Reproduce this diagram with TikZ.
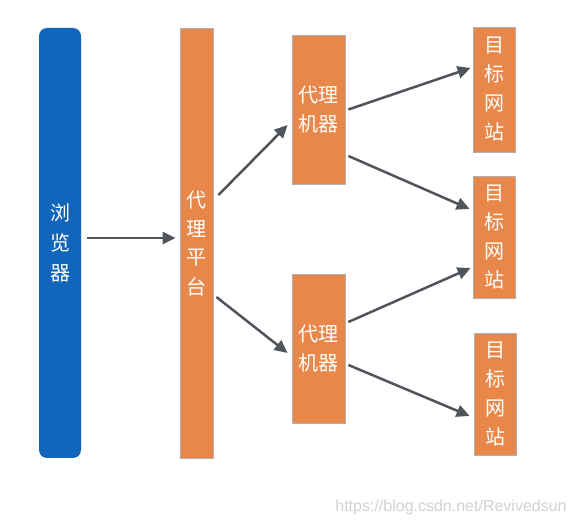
\documentclass[tikz,border=0pt]{standalone}
\usepackage{fontspec}
\newfontfamily\cjk{Noto Sans CJK SC}
\newfontfamily\wmfont{Liberation Sans}
\usetikzlibrary{arrows.meta}
\definecolor{boxorange}{HTML}{E8874A}
\definecolor{boxblue}{HTML}{1166BB}
\definecolor{arrowgray}{HTML}{50555B}
\definecolor{edgegray}{HTML}{B0B0B0}
\tikzset{
  obox/.style={rectangle, fill=boxorange, draw=edgegray, line width=0.8pt, inner sep=0pt,
    text=white, align=center, font=\cjk\fontsize{20}{29}\selectfont},
  bbox/.style={rectangle, rounded corners=8pt, fill=boxblue, draw=none, inner sep=0pt,
    text=white, align=center, font=\cjk\fontsize{20}{30}\selectfont},
  conn/.style={draw=arrowgray, line width=2.5pt, -{Triangle[length=13pt,width=12pt]}}
}
\begin{document}
\begin{tikzpicture}[x=1pt,y=1pt]
\useasboundingbox (0,0) rectangle (574,526);
\fill[white] (0,0) rectangle (574,526);
\node[bbox, minimum width=42pt, minimum height=430pt] (br) at (60,283) {浏\\览\\器};
\node[obox, minimum width=33pt, minimum height=430pt] (plat) at (196.5,283) {代\\理\\平\\台};
\node[obox, minimum width=53pt, minimum height=149pt] (pm1) at (318.5,416.5) {代理\\机器};
\node[obox, minimum width=53pt, minimum height=149pt] (pm2) at (318.5,177.5) {代理\\机器};
\node[obox, minimum width=42pt, minimum height=125pt] (t1) at (494,436.5) {目\\标\\网\\站};
\node[obox, minimum width=42pt, minimum height=122pt] (t2) at (494,289) {目\\标\\网\\站};
\node[obox, minimum width=42pt, minimum height=122pt] (t3) at (495,132) {目\\标\\网\\站};
\draw[conn] ([shift={(6,5)}]br.east) -- ([shift={(-4,5)}]plat.west);
\draw[conn] ([shift={(5,48)}]plat.east) -- ([shift={(-4,-15.5)}]pm1.west);
\draw[conn] ([shift={(3,-54)}]plat.east) -- ([shift={(-4,-4.5)}]pm2.west);
\draw[conn] ([shift={(3,0)}]pm1.east) -- ([shift={(-2,21.5)}]t1.west);
\draw[conn] ([shift={(3,-46.5)}]pm1.east) -- ([shift={(-3,28)}]t2.west);
\draw[conn] ([shift={(3,26.5)}]pm2.east) -- ([shift={(-2,-31)}]t2.west);
\draw[conn] ([shift={(3,-16.5)}]pm2.east) -- ([shift={(-4,-22)}]t3.west);
\node[text=gray!35, font=\wmfont\fontsize{16}{18}\selectfont, inner sep=0pt] (wm) at (451,19) {https://blog.csdn.net/Revivedsun};
\end{tikzpicture}
\end{document}
